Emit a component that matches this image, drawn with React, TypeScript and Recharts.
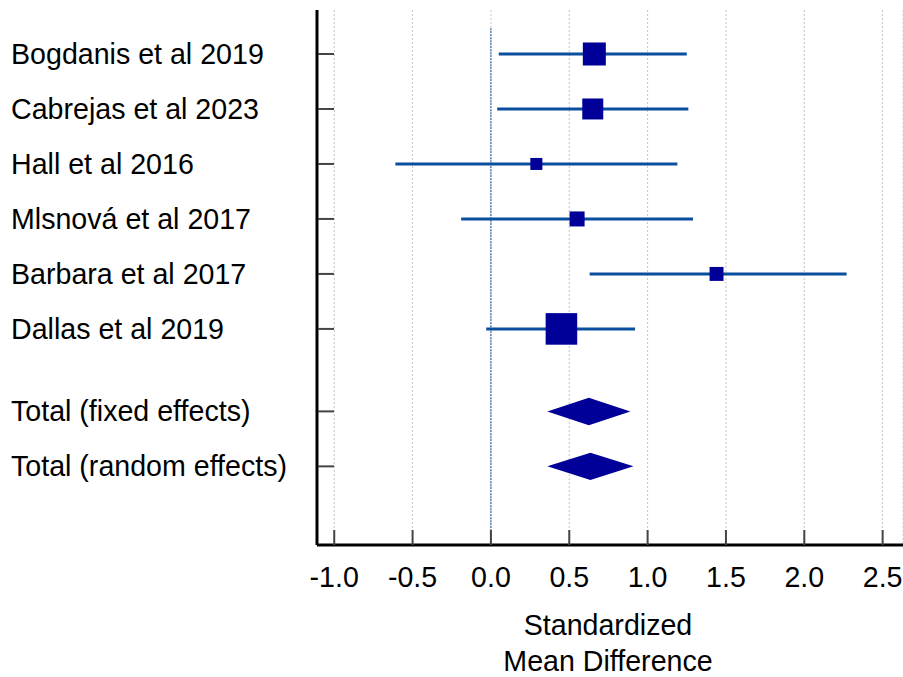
import { ComposedChart, Scatter, XAxis, YAxis, CartesianGrid, ReferenceLine, ReferenceArea } from 'recharts'

// Forest plot: standardized mean difference per study with 95% CI,
// square size ~ study weight, pooled estimates as diamonds.

const studies = ['Bogdanis et al 2019', 'Cabrejas et al 2023', 'Hall et al 2016', 'Mlsnová et al 2017', 'Barbara et al 2017', 'Dallas et al 2019']
const smd = [0.66, 0.65, 0.29, 0.55, 1.44, 0.45]
const ciLow = [0.05, 0.04, -0.61, -0.19, 0.63, -0.03]
const ciHigh = [1.25, 1.26, 1.19, 1.29, 2.27, 0.92]
const weights = [20.9, 17.4, 5.7, 8.9, 7.7, 39.4]

const totals = ['Total (fixed effects)', 'Total (random effects)']
const totalSmd = [0.63, 0.63]
const totalLow = [0.36, 0.36]
const totalHigh = [0.89, 0.91]

const xTicks = [-1.0, -0.5, 0.0, 0.5, 1.0, 1.5, 2.0, 2.5]

const FONT = '"Liberation Sans", Arial, sans-serif'
const FS = 28.6
const NAVY = '#000099'
const CI_BLUE = '#0a4f9e'

// row positions: studies 1..6, then a gap before the pooled rows
const studyPos = studies.map((_, i) => i + 1)
const totalPos = totals.map((_, i) => studies.length + 1.5 + i)
const rowLabel = new Map<number, string>()
studies.forEach((s, i) => rowLabel.set(studyPos[i], s))
totals.forEach((s, i) => rowLabel.set(totalPos[i], s))

const points = studies.map((s, i) => ({ name: s, x: smd[i], y: studyPos[i], w: weights[i] }))

function Square(props: any) {
  const { cx, cy, payload } = props
  const side = 5.03 * Math.sqrt(payload.w)
  return <rect x={cx - side / 2} y={cy - side / 2} width={side} height={side} fill={NAVY} />
}

function Diamond(props: any) {
  const { x, y, width, height } = props
  const cx = x + width / 2
  const cy = y + height / 2
  const l = Math.min(x, x + width)
  const r = Math.max(x, x + width)
  const h = Math.abs(height) / 2
  return <polygon points={`${l},${cy} ${cx},${cy - h} ${r},${cy} ${cx},${cy + h}`} fill={NAVY} />
}

function RowTick(props: any) {
  const { y, payload } = props
  return (
    <g>
      <line x1={318} x2={334} y1={y} y2={y} stroke="#444" strokeWidth={2} />
      <text x={11} y={y} dy={10} fontSize={FS} fontFamily={FONT} fill="#000" textAnchor="start">
        {rowLabel.get(payload.value)}
      </text>
    </g>
  )
}

function ValueTick(props: any) {
  const { x, payload } = props
  return (
    <g>
      <line x1={x} x2={x} y1={545} y2={530} stroke="#444" strokeWidth={2} />
      <text x={x} y={587} fontSize={FS} fontFamily={FONT} fill="#000" textAnchor="middle">
        {payload.value.toFixed(1)}
      </text>
    </g>
  )
}

function AxisTitle() {
  return (
    <g>
      <text x={608} y={635} fontSize={FS} fontFamily={FONT} fill="#000" textAnchor="middle">Standardized</text>
      <text x={608} y={671} fontSize={FS} fontFamily={FONT} fill="#000" textAnchor="middle">Mean Difference</text>
    </g>
  )
}

export default function App() {
  return (
    <div style={{ position: 'absolute', left: 0, top: 0, width: 903, height: 677, background: '#fff' }}>
      <ComposedChart width={903} height={677} margin={{ top: 10, right: 0, bottom: 0, left: 0 }}>
        <CartesianGrid horizontal={false} stroke="#c4c4c4" strokeDasharray="2 2" />
        <XAxis
          type="number"
          dataKey="x"
          domain={[-1.11, 2.63]}
          ticks={xTicks}
          height={132}
          axisLine={{ stroke: '#000', strokeWidth: 3 }}
          tickLine={false}
          tick={ValueTick}
          label={{ content: AxisTitle }}
          allowDataOverflow
        />
        <YAxis
          type="number"
          dataKey="y"
          domain={[0.2, 9.93]}
          reversed
          ticks={[...studyPos, ...totalPos]}
          width={317}
          axisLine={{ stroke: '#000', strokeWidth: 3 }}
          tickLine={false}
          tick={RowTick}
          allowDataOverflow
        />
        <ReferenceLine
          segment={[{ x: 0, y: 0.53 }, { x: 0, y: 9.93 }]}
          stroke="#164f98"
          strokeWidth={1}
          strokeDasharray="2 1"
        />
        {studies.map((s, i) => (
          <ReferenceLine
            key={s}
            segment={[{ x: ciLow[i], y: studyPos[i] }, { x: ciHigh[i], y: studyPos[i] }]}
            stroke={CI_BLUE}
            strokeWidth={3}
          />
        ))}
        {totals.map((t, i) => (
          <ReferenceArea
            key={t}
            x1={totalLow[i]}
            x2={totalHigh[i]}
            y1={totalPos[i] - 0.25}
            y2={totalPos[i] + 0.25}
            shape={Diamond}
          />
        ))}
        <Scatter data={points} shape={Square} isAnimationActive={false} />
      </ComposedChart>
    </div>
  )
}
